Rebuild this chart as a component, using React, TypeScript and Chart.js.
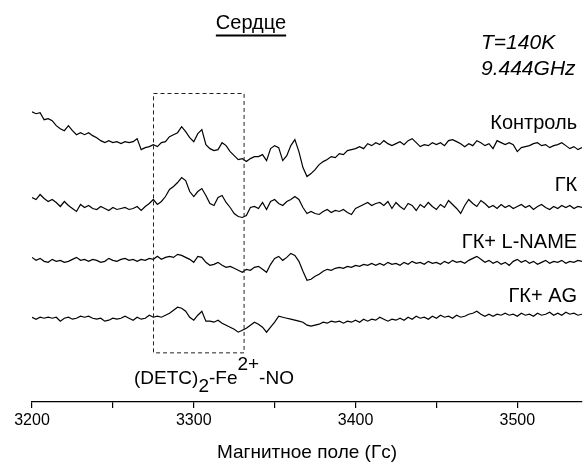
import React, { useEffect, useRef } from 'react';
import { Chart, registerables } from 'chart.js';

Chart.register(...registerables);

// Magnetic field sampling (G)
const FIELD_START = 3200;
const FIELD_STEP = 2.5;
const FIELD_MIN = 3200;
const FIELD_MAX = 3540;

// EPR signal amplitudes (arbitrary units)
const CONTROL = [
  33, 31, 32, 25, 26, 24, 19, 16, 14, 19,
  14, 10, 12, 10, 12, 9, 7, 4, 2, 4,
  2, 3, 1, 3, 2, 3, 6, -5, -3, -2,
  0, -2, 2, 3, 8, 10, 12, 18, 13, 7,
  3, 11, 15, 0, -4, -6, -5, 2, -1, -7,
  -11, -15, -14, -17, -14, -12, -12, -10, -16, -4,
  -1, -3, -16, -11, -1, 5, -7, -23, -32, -29,
  -25, -20, -17, -15, -12, -13, -9, -10, -6, -5,
  -4, -2, -4, 1, -1, 2, 0, 4, 1, -1,
  1, 3, 0, 4, 6, 2, -2, 0, -1, 2,
  0, 2, -1, 4, 5, 3, 1, -2, 1, -1,
  4, 2, -1, 1, -4, 4, 2, 0, 2, 0,
  -7, -3, -2, -1, 1, 2, -1, 0, -3, -1,
  0, 2, -1, -4, -2, -5, -3,
];
const GK = [
  8, 6, 11, 7, 4, 6, 3, -1, 4, 0,
  -3, -6, 1, -2, 0, -3, -4, -1, -3, -5,
  -2, -4, -3, -2, -4, -3, -1, -5, -1, 2,
  6, 1, 4, 9, 16, 19, 23, 28, 25, 14,
  9, 14, 17, 10, 2, 0, 8, 10, 3, -2,
  -8, -11, -12, -10, -2, -1, -3, 3, -4, 4,
  6, 2, 0, 4, 6, 9, 6, -2, -8, -6,
  -8, -9, -6, -4, -7, -5, -6, -4, -7, -9,
  -3, -1, 1, 3, 0, 2, 3, 0, 4, -3,
  3, -1, -4, 2, 0, -5, 1, -2, 3, -1,
  -4, 1, -2, 5, 1, -3, -8, 0, 6, 2,
  -1, 5, 2, -2, 0, -3, 1, -2, 0, -3,
  -1, 1, -2, 0, -4, -1, 1, -2, -4, -1,
  -3, 0, -2, 0, -3, -1, -2,
];
const GK_LNAME = [
  5, 2, 4, 1, 0, 3, 1, 2, 0, 1,
  3, 5, 2, 3, 1, 3, 2, 0, 1, 4,
  2, 1, 3, 4, 2, 3, 1, 3, 2, 4,
  3, 6, 3, 5, 6, 5, 8, 7, 5, 3,
  0, 6, 5, 0, -3, -2, 0, -3, -5, -4,
  -6, -8, -10, -7, -8, -5, -4, -7, -10, -2,
  4, 6, 2, 5, 9, 7, 1, -9, -18, -17,
  -14, -12, -9, -7, -8, -6, -5, -6, -4, -5,
  -3, -4, -2, -3, -1, -3, -1, -3, 0, -2,
  -1, -3, 0, -2, 1, -1, 0, -2, 1, -1,
  0, -2, 1, -1, 2, 0, 1, -1, 2, 4,
  6, 3, 0, 2, -1, 1, -2, 0, -3, 1,
  3, 0, 2, -1, 1, -2, 0, 2, -1, 1,
  0, 2, -1, 1, 0, 2, 1,
];
const GK_AG = [
  0, -2, 0, -1, 0, -1, 0, -4, -1, 0,
  -2, -1, 1, 0, 1, -1, -2, -1, -4, -3,
  -1, -2, -1, 1, -1, -3, 0, -2, -1, 2,
  0, 1, 0, 2, 4, 7, 10, 9, 6, 0,
  -3, 2, 6, -4, -4, -5, -3, -6, -8, -10,
  -12, -15, -13, -11, -8, -5, -7, -10, -15, -10,
  -5, 1, 0, -1, -2, -3, -4, -5, -8, -9,
  -8, -7, -5, -6, -4, -5, -4, -6, -4, -5,
  -3, -5, -2, -4, -2, -3, 0, -2, -4, -2,
  -3, -1, -3, 0, -2, 1, -1, 0, -2, 1,
  -1, 2, 0, 1, -1, 2, 0, 1, 3, 4,
  6, 3, 1, 3, 1, 3, 2, 4, 2, 3,
  1, 4, 2, 3, 1, 4, 2, 3, 5, 2,
  4, 2, 5, 3, 4, 2, 3,
];

const SERIES = [CONTROL, GK, GK_LNAME, GK_AG];
const SERIES_NAMES = ['Контроль', 'ГК', 'ГК+ L-NAME', 'ГК+ AG'];
const STACK_OFFSETS = [258, 197, 140, 85];
const LABEL_Y = [279, 217, 160, 106];
const X_TICK_LABELS = [3200, 3300, 3400, 3500];

const TITLE = 'Сердце';
const CONDITIONS = ['T=140K', '9.444GHz'];
const X_TITLE = 'Магнитное поле (Гс)';
const BOX = { x1: 3275, x2: 3331, y1: 50, y2: 310 };

const FONT = "'Liberation Sans', Arial, sans-serif";

const annotationPlugin = {
  id: 'annotations',
  afterDraw(chart: any) {
    const ctx = chart.ctx as CanvasRenderingContext2D;
    const xs = chart.scales.x;
    const ys = chart.scales.y;
    ctx.save();
    ctx.fillStyle = '#000';
    ctx.strokeStyle = '#000';

    // dashed box
    const bx1 = xs.getPixelForValue(BOX.x1);
    const bx2 = xs.getPixelForValue(BOX.x2);
    const by1 = ys.getPixelForValue(BOX.y2);
    const by2 = ys.getPixelForValue(BOX.y1);
    ctx.setLineDash([4, 3]);
    ctx.lineWidth = 1;
    ctx.strokeStyle = '#222';
    ctx.strokeRect(Math.round(bx1) + 0.5, Math.round(by1) + 0.5, bx2 - bx1, by2 - by1);
    ctx.setLineDash([]);

    // series labels
    ctx.font = `20px ${FONT}`;
    ctx.textAlign = 'right';
    ctx.textBaseline = 'middle';
    const rx = xs.getPixelForValue(3537);
    SERIES_NAMES.forEach((n, i) => {
      ctx.fillText(n, rx, ys.getPixelForValue(LABEL_Y[i]));
    });

    // title
    ctx.font = `20px ${FONT}`;
    ctx.textAlign = 'center';
    ctx.textBaseline = 'alphabetic';
    const tw = ctx.measureText(TITLE).width;
    ctx.fillText(TITLE, 251, 29);
    ctx.lineWidth = 1.8;
    ctx.strokeStyle = '#000';
    ctx.beginPath();
    ctx.moveTo(251 - tw / 2, 35.5);
    ctx.lineTo(251 + tw / 2, 35.5);
    ctx.stroke();

    // conditions
    ctx.font = `italic 21px ${FONT}`;
    ctx.textAlign = 'left';
    ctx.textBaseline = 'middle';
    ctx.fillText(CONDITIONS[0], 481, 43);
    ctx.fillText(CONDITIONS[1], 481, 69);

    // complex label (DETC)2-Fe2+-NO
    let x = 134;
    const base = 384;
    ctx.textBaseline = 'alphabetic';
    ctx.font = `19px ${FONT}`;
    ctx.fillText('(DETC)', x, base);
    x += ctx.measureText('(DETC)').width;
    ctx.fillText('2', x, base + 8);
    x += ctx.measureText('2').width;
    ctx.fillText('-Fe', x, base);
    x += ctx.measureText('-Fe').width;
    ctx.fillText('2+', x, base - 14);
    x += ctx.measureText('2+').width;
    ctx.fillText('-NO', x, base);
    ctx.restore();
  },
};

export default function App() {
  const ref = useRef<HTMLCanvasElement>(null);
  useEffect(() => {
    if (!ref.current) return;
    const datasets = SERIES.map((vals, s) => ({
      label: SERIES_NAMES[s],
      data: vals.map((v, i) => ({ x: FIELD_START + i * FIELD_STEP, y: v + STACK_OFFSETS[s] })),
      borderColor: '#000',
      borderWidth: 1.2,
      pointRadius: 0,
      tension: 0,
      fill: false,
    }));
    const chart = new Chart(ref.current, {
      type: 'line',
      data: { datasets },
      options: {
        responsive: false,
        animation: false,
        layout: { padding: { left: 32, right: 3, top: 0, bottom: 0 } },
        plugins: { legend: { display: false }, tooltip: { enabled: false } },
        scales: {
          x: {
            type: 'linear',
            min: FIELD_MIN,
            max: FIELD_MAX,
            ticks: {
              stepSize: 50,
              includeBounds: false,
              autoSkip: false,
              maxRotation: 0,
              color: '#000',
              font: { size: 16, family: FONT },
              padding: 3,
              callback: (v: any) => (X_TICK_LABELS.includes(Number(v)) ? String(v) : ''),
            },
            grid: { drawOnChartArea: false, drawTicks: true, tickLength: 6, color: '#000', lineWidth: 1.2 },
            border: { display: true, color: '#000', width: 1.2 },
            title: {
              display: true,
              text: X_TITLE,
              color: '#000',
              font: { size: 19, family: FONT },
              padding: { top: 8, bottom: 4 },
            },
          },
          y: { type: 'linear', display: false, min: 0, max: 403 },
        },
      },
      plugins: [annotationPlugin],
    });
    return () => chart.destroy();
  }, []);
  return (
    <div style={{ position: 'absolute', left: 0, top: 0, width: 585, height: 468, background: '#fff' }}>
      <canvas ref={ref} width={585} height={468} style={{ display: 'block' }} />
    </div>
  );
}
